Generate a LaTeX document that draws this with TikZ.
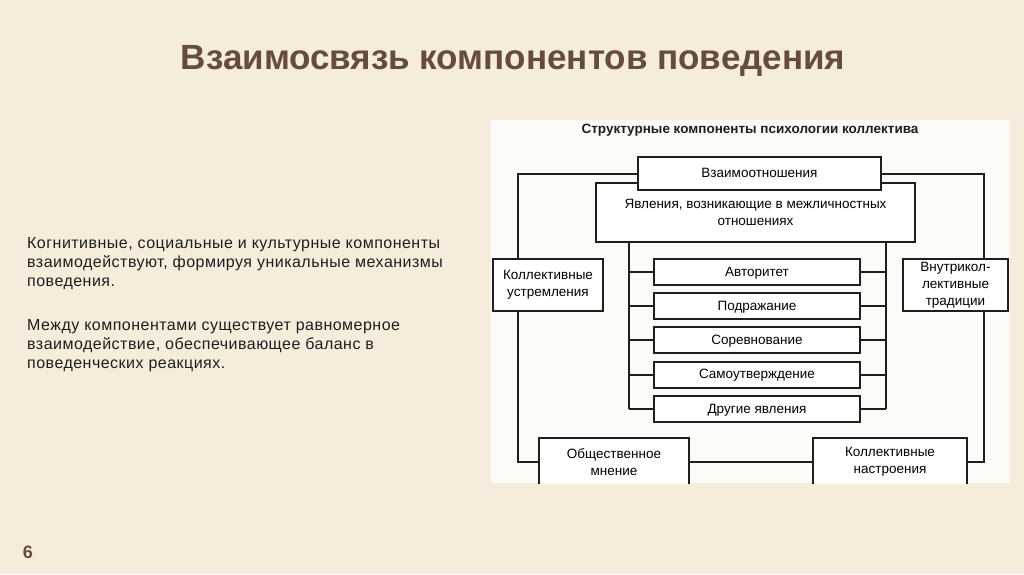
\documentclass[tikz,border=0pt]{standalone}
\usepackage{fontspec}
\setmainfont{Liberation Sans}
\definecolor{fond}{RGB}{246,236,220}
\definecolor{titre}{RGB}{101,76,60}
\definecolor{panneau}{RGB}{252,251,248}
\definecolor{trait}{RGB}{30,30,30}

\begin{document}
\begin{tikzpicture}[x=1pt, y=-1pt,
		boite/.style={draw=trait, fill=white, line width=2pt, inner sep=0pt, align=center,
			font=\fontsize{13.5}{17}\selectfont},
		petite/.style={boite, minimum width=206pt, minimum height=26pt, text height=10pt, text depth=2pt},
		lien/.style={draw=trait, line width=2pt}]
	\fill[fond] (0,0) rectangle (1024,574);
	\useasboundingbox (0,0) rectangle (1024,574);
	% titre et texte
	\node[anchor=base, text=titre, font=\bfseries\fontsize{35}{38}\selectfont] (titre) at (513,69) {Взаимосвязь компонентов поведения};
	\node[anchor=north west, inner sep=0pt, align=left, text=trait,
		font=\fontsize{16}{19}\selectfont\addfontfeature{LetterSpace=3}] (texte) at (27,237)
		{Когнитивные, социальные и культурные компоненты\\
		 взаимодействуют, формируя уникальные механизмы\\
		 поведения.\\[25pt]
		 Между компонентами существует равномерное\\
		 взаимодействие, обеспечивающее баланс в\\
		 поведенческих реакциях.};
	\node[text=titre, font=\bfseries\fontsize{18}{20}\selectfont] (page) at (28,552) {6};
	% schema
	\fill[panneau] (491,120) rectangle (1010,483);
	\node[font=\bfseries\fontsize{13.5}{15}\selectfont, text=trait] (entete) at (750,130) {Структурные компоненты психологии коллектива};
	\coordinate (lx) at (518,0);
	\coordinate (rx) at (984,0);
	\coordinate (il) at (629,0);
	\coordinate (ir) at (886,0);
	\begin{scope}
		\clip (491,120) rectangle (1010,483);
		\node[boite, minimum width=319pt, minimum height=59pt] (yav) at (755.5,212.5) {Явления, возникающие в межличностных\\отношениях};
		\node[boite, minimum width=243pt, minimum height=33pt, text height=10pt, text depth=2pt] (vz) at (759.5,173.5) {Взаимоотношения};
		\node[boite, minimum width=110pt, minimum height=52pt] (ustr) at (548,285) {Коллективные\\устремления};
		\node[boite, minimum width=105pt, minimum height=52pt] (trad) at (955.5,285) {Внутрикол-\\лективные\\традиции};
		\node[petite] (avt) at (757,272) {Авторитет};
		\node[petite] (podr) at (757,306) {Подражание};
		\node[petite] (sor) at (757,340) {Соревнование};
		\node[petite] (sam) at (757,374.5) {Самоутверждение};
		\node[petite] (dr) at (757,409) {Другие явления};
		\node[boite, minimum width=150pt, minimum height=48pt] (obsh) at (614,462) {Общественное\\мнение};
		\node[boite, minimum width=154pt, minimum height=48pt] (nastr) at (890,462) {Коллективные\\настроения};
		% contour exterieur
		\draw[lien] (vz.west) -| (lx |- ustr.north);
		\draw[lien] (lx |- ustr.south) |- (obsh.west);
		\draw[lien] (obsh.east) -- (nastr.west);
		\draw[lien] (nastr.east) -| (rx |- trad.south);
		\draw[lien] (rx |- trad.north) |- (vz.east);
		% branches interieures
		\draw[lien] (il |- yav.south) -- (il |- dr.west);
		\draw[lien] (ir |- yav.south) -- (ir |- dr.east);
		\foreach \n in {avt,podr,sor,sam,dr}{
			\draw[lien] (il |- \n.west) -- (\n.west);
			\draw[lien] (\n.east) -- (ir |- \n.east);
		}
	\end{scope}
\end{tikzpicture}
\end{document}
